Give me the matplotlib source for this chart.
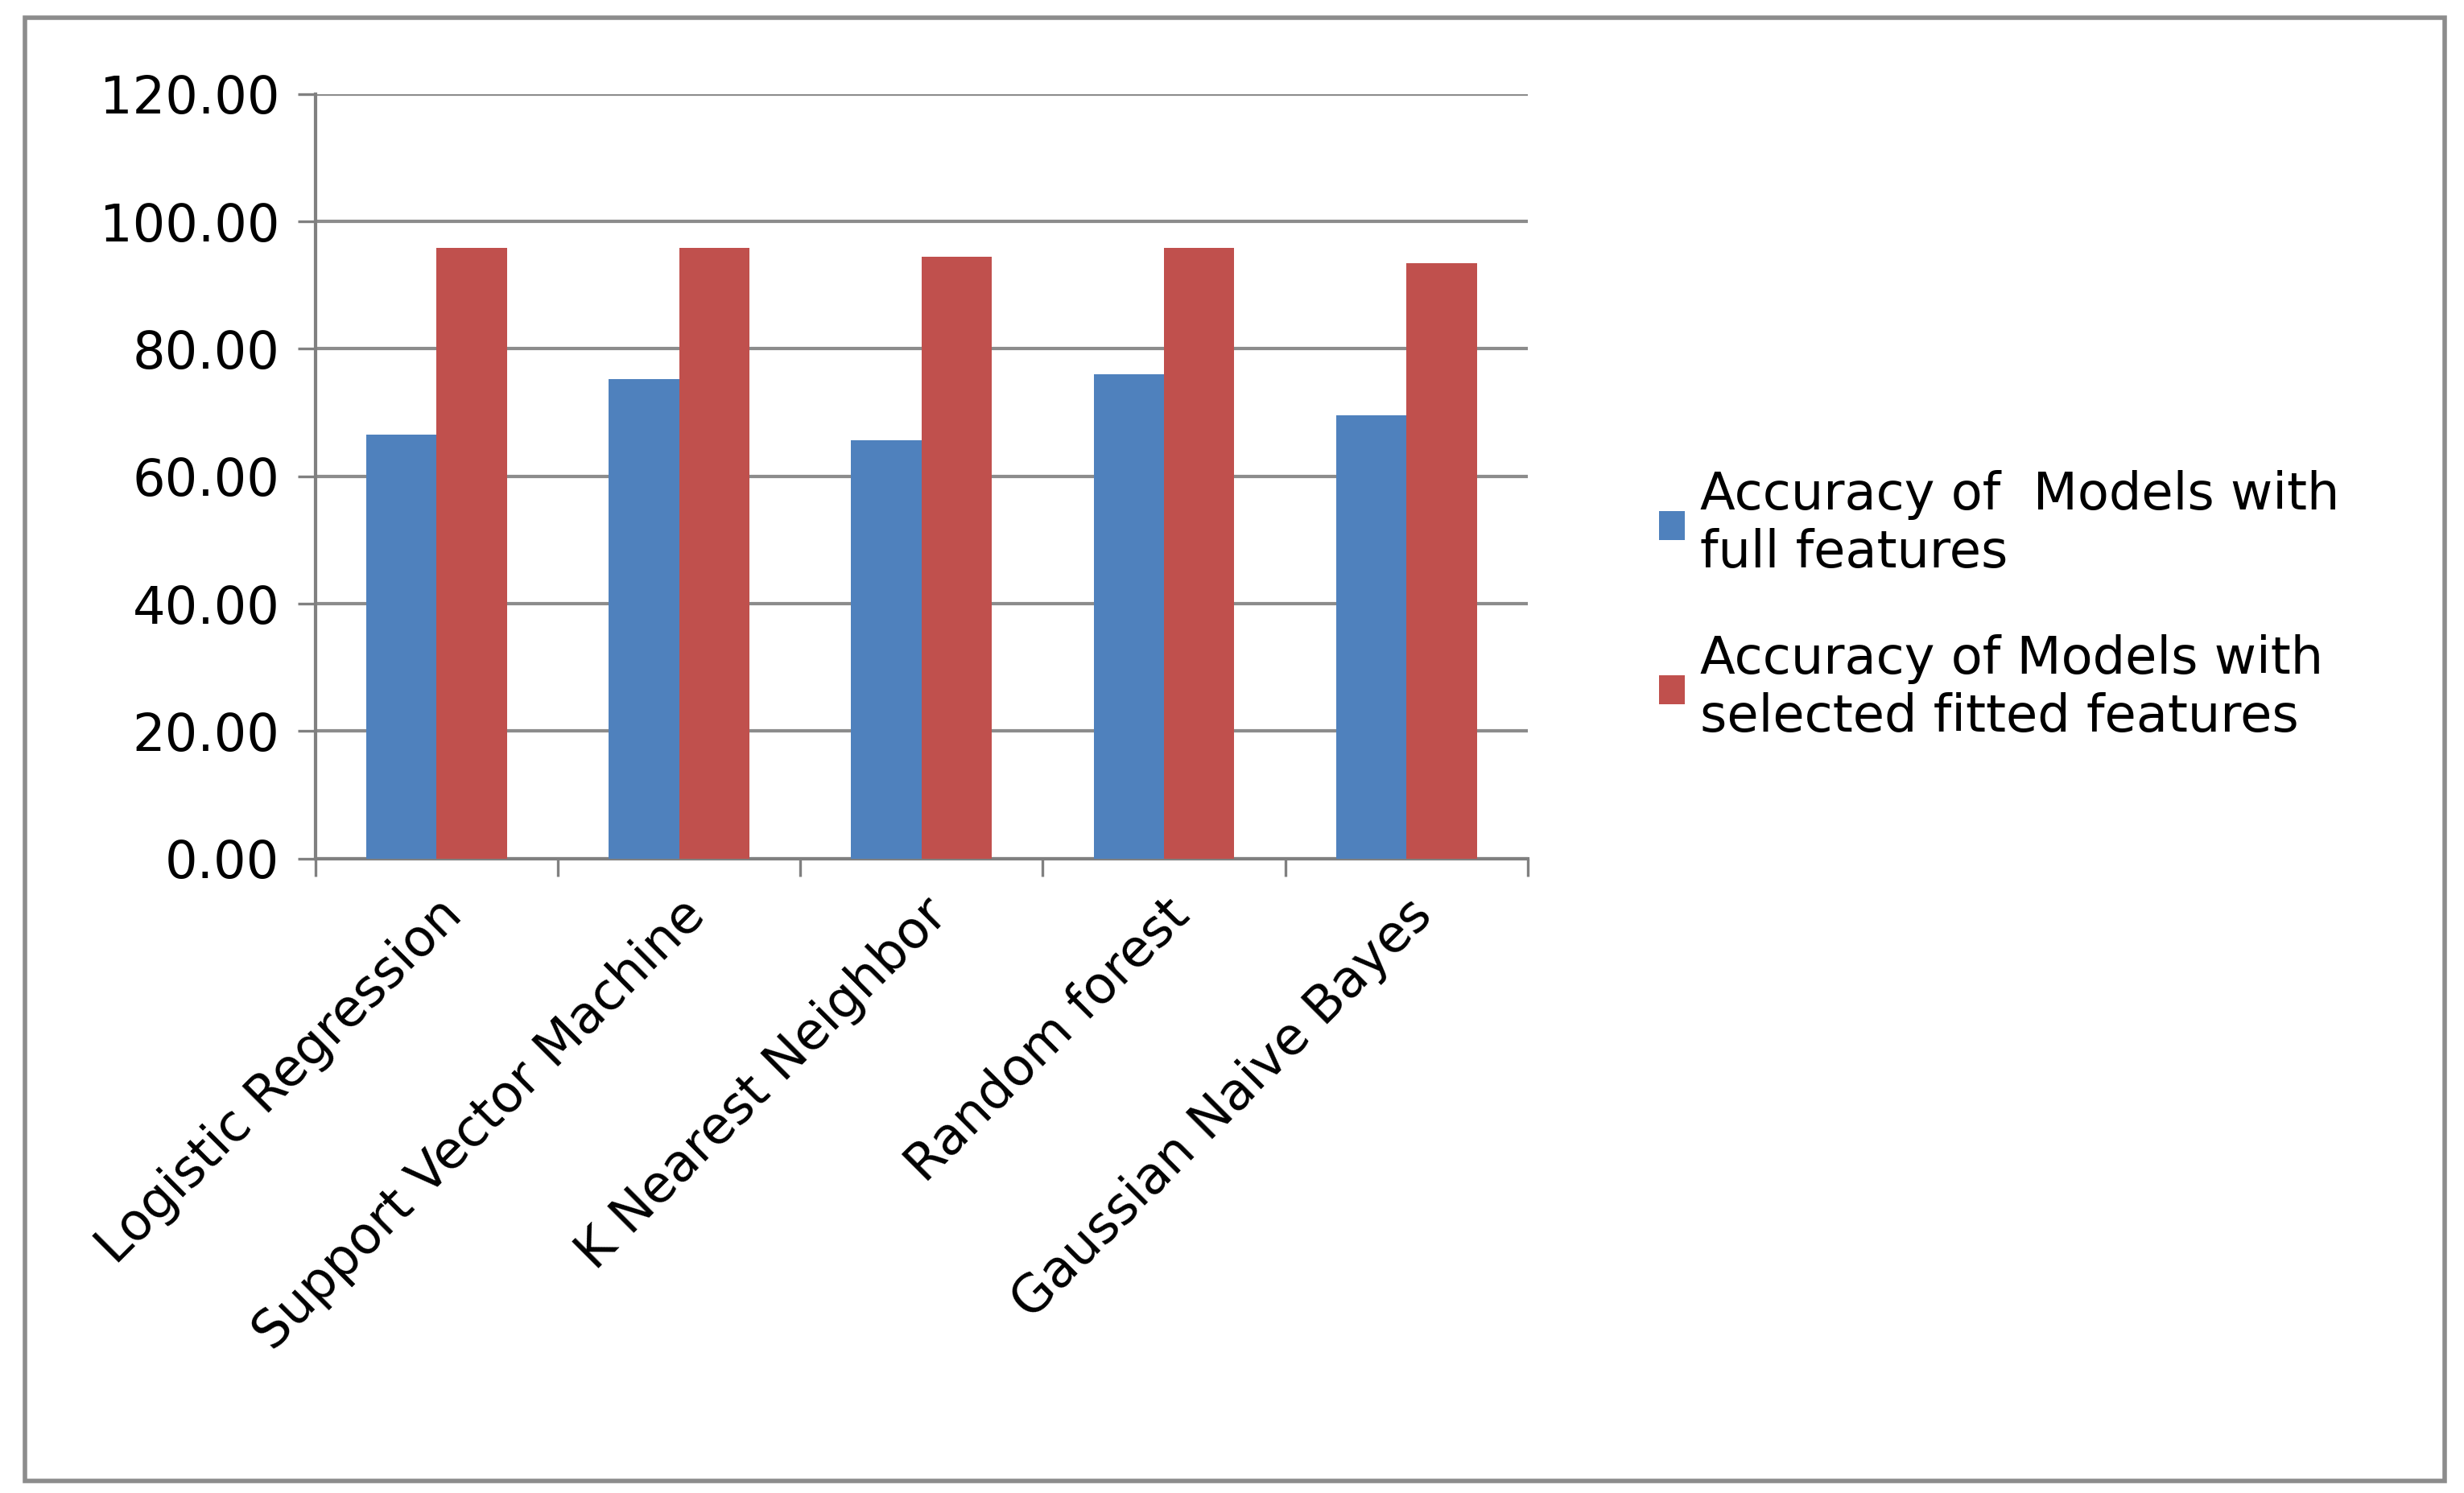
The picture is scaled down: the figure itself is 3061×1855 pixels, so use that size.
import numpy as np
import matplotlib.pyplot as plt
from matplotlib.patches import Rectangle

models = ["Logistic Regression", "Support Vector Machine", "K Nearest Neighbor",
          "Random forest", "Gaussian Naive Bayes"]
full_acc = [66.6, 75.3, 65.6, 76.0, 69.6]
selected_acc = [95.9, 95.9, 94.4, 95.9, 93.4]
series_names = ["Accuracy of  Models with\nfull features",
                "Accuracy of Models with\nselected fitted features"]

plt.rcParams['font.family'] = ['DejaVu Sans']
fig = plt.figure(figsize=(15.305, 9.275), dpi=200)
fig.patches.append(Rectangle((0.01, 0.008), 0.982, 0.98, transform=fig.transFigure,
                             fill=False, edgecolor="#8c8c8c", linewidth=2))
ax = fig.add_axes([0.128, 0.425, 0.492, 0.512])

x = np.arange(len(models))
w = 0.29
ax.bar(x - w / 2, full_acc, w, color="#4F81BD", label=series_names[0], zorder=3)
ax.bar(x + w / 2, selected_acc, w, color="#C0504D", label=series_names[1], zorder=3)

ax.set_ylim(0, 120)
ax.set_yticks(np.arange(0, 121, 20))
ax.set_yticklabels([f"{v:.2f}" for v in np.arange(0, 121, 20)], fontsize=23)
ax.tick_params(axis='y', length=8, width=1.2, color="#808080", pad=8)
ax.yaxis.grid(True, color="#8c8c8c", linewidth=1.5, zorder=0)
ax.set_xlim(-0.5, len(models) - 0.5)
ax.set_xticks(x)
ax.set_xticklabels(models, rotation=45, ha='right', rotation_mode='anchor', fontsize=23)
ax.tick_params(axis='x', length=0, pad=14)
ax.set_xticks(np.arange(-0.5, len(models)), minor=True)
ax.tick_params(axis='x', which='minor', length=8, width=1.2, color="#808080")
for s in ["top", "right"]:
    ax.spines[s].set_visible(False)
ax.spines["left"].set_color("#808080")
ax.spines["bottom"].set_color("#808080")
ax.spines["left"].set_linewidth(1.5)
ax.spines["bottom"].set_linewidth(1.5)

ax.legend(loc='center left', bbox_to_anchor=(1.07, 0.33), frameon=False, fontsize=23,
          handlelength=0.5, handleheight=0.5, handletextpad=0.3, labelspacing=1.1)

fig.savefig("out.png", dpi=200)
